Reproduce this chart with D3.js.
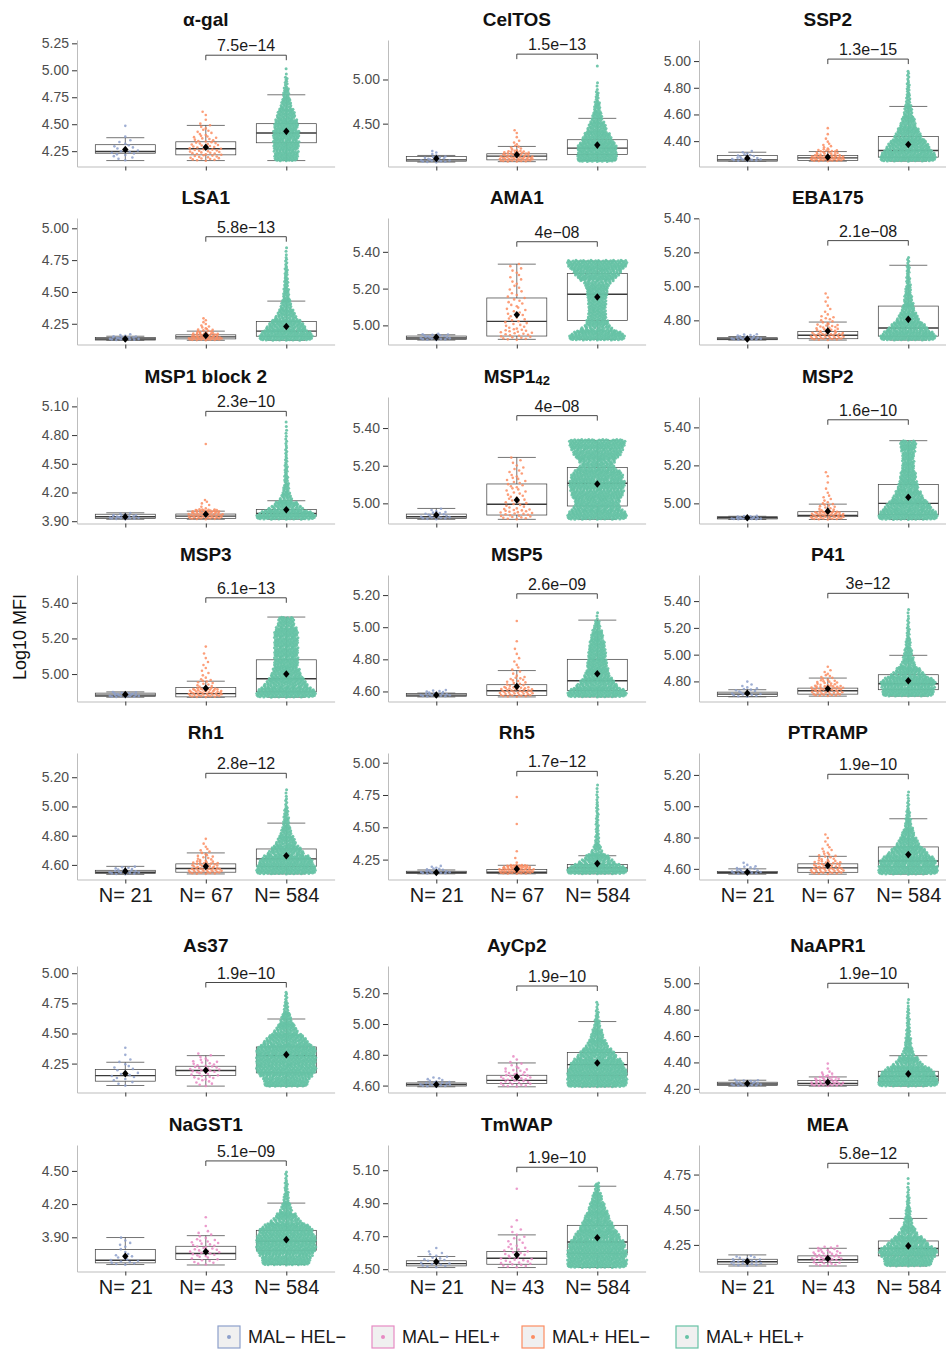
<!DOCTYPE html>
<html>
<head>
<meta charset="utf-8">
<script src="https://cdn.jsdelivr.net/npm/d3@7"></script>
<style>
  body { margin: 0; background: #fff; }
  text { font-family: "Liberation Sans", Arial, sans-serif; }
</style>
</head>
<body>
<div id="chart"></div>
<script>
// antigen panels, read left to right, top to bottom
const antigens = ["α-gal", "CelTOS", "SSP2", "LSA1", "AMA1", "EBA175",
  "MSP1 block 2", "MSP1", "MSP2", "MSP3", "MSP5", "P41", "Rh1", "Rh5", "PTRAMP",
  "As37", "AyCp2", "NaAPR1", "NaGST1", "TmWAP", "MEA"];
const antigenSub = ["", "", "", "", "", "", "", "42", "", "", "", "", "", "", "",
  "", "", "", "", "", ""];

const pLabels = ["7.5e−14", "1.5e−13", "1.3e−15", "5.8e−13", "4e−08", "2.1e−08",
  "2.3e−10", "4e−08", "1.6e−10", "6.1e−13", "2.6e−09", "3e−12",
  "2.8e−12", "1.7e−12", "1.9e−10", "1.9e−10", "1.9e−10", "1.9e−10",
  "5.1e−09", "1.9e−10", "5.8e−12"];
const bracketAt = [5.14, 5.287, 5.015, 4.934, 5.455, 5.269, 5.048, 5.466, 5.44,
  5.428, 5.208, 5.458, 5.227, 4.933, 5.204, 4.923, 5.247, 5.0, 4.59, 5.118, 4.83];

const yDomains = [[4.108, 5.281], [4.015, 5.447], [4.21, 5.158], [4.087, 5.081],
  [4.896, 5.584], [4.658, 5.402], [3.876, 5.198], [4.893, 5.565], [4.894, 5.56],
  [4.846, 5.556], [4.5375, 5.325], [4.65, 5.595], [4.5, 5.366], [4.096, 5.075],
  [4.532, 5.34], [4.01, 5.06], [4.555, 5.377], [4.172, 5.131], [3.591, 4.734],
  [4.486, 5.253], [4.061, 4.96]];
const yTicks = [[4.25, 4.5, 4.75, 5, 5.25], [4.5, 5], [4.4, 4.6, 4.8, 5],
  [4.25, 4.5, 4.75, 5], [5, 5.2, 5.4], [4.8, 5, 5.2, 5.4],
  [3.9, 4.2, 4.5, 4.8, 5.1], [5, 5.2, 5.4], [5, 5.2, 5.4],
  [5, 5.2, 5.4], [4.6, 4.8, 5, 5.2], [4.8, 5, 5.2, 5.4],
  [4.6, 4.8, 5, 5.2], [4.25, 4.5, 4.75, 5], [4.6, 4.8, 5, 5.2],
  [4.25, 4.5, 4.75, 5], [4.6, 4.8, 5, 5.2], [4.2, 4.4, 4.6, 4.8, 5],
  [3.9, 4.2, 4.5], [4.5, 4.7, 4.9, 5.1], [4.25, 4.5, 4.75]];

// [lower whisker, q1, median, q3, upper whisker, mean] per group
const boxStats = [
  [[4.163, 4.231, 4.247, 4.31, 4.375, 4.266], [4.163, 4.216, 4.272, 4.337, 4.489, 4.287], [4.163, 4.328, 4.418, 4.505, 4.773, 4.434]],
  [[4.065, 4.075, 4.09, 4.128, 4.14, 4.106], [4.07, 4.09, 4.132, 4.159, 4.242, 4.148], [4.083, 4.151, 4.223, 4.318, 4.56, 4.257]],
  [[4.25, 4.25, 4.26, 4.292, 4.317, 4.272], [4.25, 4.255, 4.275, 4.292, 4.322, 4.28], [4.25, 4.28, 4.33, 4.435, 4.66, 4.375]],
  [[4.12, 4.122, 4.13, 4.142, 4.152, 4.13], [4.12, 4.131, 4.147, 4.163, 4.192, 4.158], [4.12, 4.152, 4.192, 4.268, 4.428, 4.229]],
  [[4.92, 4.924, 4.931, 4.942, 4.949, 4.935], [4.924, 4.942, 5.022, 5.149, 5.333, 5.058], [4.924, 5.027, 5.169, 5.282, 5.349, 5.154]],
  [[4.684, 4.686, 4.69, 4.698, 4.705, 4.69], [4.684, 4.692, 4.712, 4.735, 4.79, 4.737], [4.684, 4.707, 4.755, 4.884, 5.124, 4.806]],
  [[3.92, 3.928, 3.946, 3.973, 3.988, 3.946], [3.92, 3.93, 3.953, 3.975, 4.005, 3.973], [3.92, 3.952, 3.98, 4.023, 4.114, 4.02]],
  [[4.915, 4.92, 4.929, 4.943, 4.973, 4.938], [4.915, 4.938, 4.995, 5.103, 5.244, 5.018], [4.915, 4.986, 5.107, 5.19, 5.334, 5.103]],
  [[4.915, 4.918, 4.924, 4.93, 4.932, 4.924], [4.915, 4.93, 4.937, 4.956, 4.996, 4.959], [4.915, 4.94, 5.0, 5.1, 5.33, 5.032]],
  [[4.87, 4.875, 4.882, 4.893, 4.9, 4.885], [4.87, 4.872, 4.89, 4.925, 4.96, 4.92], [4.87, 4.9, 4.974, 5.08, 5.32, 5.0]],
  [[4.566, 4.57, 4.577, 4.587, 4.59, 4.578], [4.566, 4.575, 4.604, 4.642, 4.73, 4.631], [4.566, 4.606, 4.667, 4.8, 5.044, 4.71]],
  [[4.685, 4.688, 4.705, 4.72, 4.738, 4.712], [4.69, 4.705, 4.73, 4.75, 4.825, 4.745], [4.69, 4.738, 4.783, 4.85, 4.995, 4.805]],
  [[4.535, 4.541, 4.55, 4.563, 4.59, 4.557], [4.538, 4.55, 4.575, 4.607, 4.682, 4.59], [4.538, 4.59, 4.641, 4.709, 4.886, 4.663]],
  [[4.14, 4.142, 4.15, 4.16, 4.17, 4.15], [4.14, 4.142, 4.152, 4.173, 4.206, 4.178], [4.14, 4.16, 4.186, 4.212, 4.28, 4.219]],
  [[4.566, 4.57, 4.576, 4.583, 4.6, 4.578], [4.566, 4.578, 4.606, 4.632, 4.68, 4.621], [4.566, 4.613, 4.65, 4.74, 4.92, 4.691]],
  [[4.068, 4.104, 4.15, 4.2, 4.261, 4.167], [4.063, 4.151, 4.192, 4.228, 4.316, 4.195], [4.063, 4.173, 4.316, 4.388, 4.62, 4.324]],
  [[4.592, 4.597, 4.607, 4.617, 4.625, 4.607], [4.592, 4.613, 4.634, 4.667, 4.747, 4.656], [4.592, 4.667, 4.736, 4.815, 5.016, 4.747]],
  [[4.22, 4.225, 4.237, 4.25, 4.265, 4.24], [4.22, 4.225, 4.24, 4.262, 4.29, 4.25], [4.22, 4.257, 4.295, 4.333, 4.451, 4.313]],
  [[3.654, 3.669, 3.693, 3.789, 3.898, 3.729], [3.65, 3.699, 3.753, 3.819, 3.915, 3.771], [3.654, 3.783, 3.864, 3.963, 4.209, 3.879]],
  [[4.51, 4.52, 4.534, 4.551, 4.577, 4.545], [4.51, 4.53, 4.566, 4.607, 4.708, 4.587], [4.51, 4.597, 4.665, 4.766, 5.003, 4.691]],
  [[4.1, 4.113, 4.13, 4.148, 4.179, 4.132], [4.1, 4.125, 4.144, 4.172, 4.226, 4.153], [4.1, 4.172, 4.224, 4.278, 4.438, 4.243]]
];

// binned point counts per group: [lowest value, highest value, counts in equal bins]
const clouds = [
  [[4.16, 4.51, [4, 7, 5, 3, 1, 0, 1]], [4.16, 4.63, [15, 16, 13, 10, 6, 4, 1, 2]], [4.16, 5.04, [70, 76, 78, 70, 52, 29, 17, 8, 2]]],
  [[4.06, 4.2, [10, 7, 2, 2]], [4.07, 4.44, [33, 22, 6, 3, 1, 2]], [4.07, 5.21, [111, 111, 78, 50, 28, 17, 8, 3, 0, 1]]],
  [[4.25, 4.33, [12, 6, 3]], [4.25, 4.52, [40, 18, 5, 2, 1, 1]], [4.25, 4.93, [176, 126, 75, 44, 25, 13, 9, 6]]],
  [[4.12, 4.17, [10, 8, 3]], [4.12, 4.3, [30, 20, 9, 4, 2, 2]], [4.12, 4.86, [156, 104, 52, 29, 17, 12, 9, 6, 3]]],
  [[4.92, 4.955, [12, 9]], [4.92, 5.34, [22, 12, 9, 8, 6, 5, 5]], [4.92, 5.355, [156, 67, 50, 50, 56, 67, 122, 167]]],
  [[4.684, 4.72, [14, 7]], [4.684, 4.97, [35, 17, 8, 3, 2, 2]], [4.684, 5.175, [144, 93, 51, 31, 21, 15, 10, 8, 5]]],
  [[3.92, 3.99, [10, 8, 3]], [3.92, 4.76, [60, 6, 0, 0, 0, 0, 0, 1]], [3.92, 4.96, [150, 70, 25, 15, 10, 8, 6, 5, 4, 3, 2]]],
  [[4.915, 4.975, [11, 7, 3]], [4.915, 5.25, [24, 12, 10, 10, 7, 4]], [4.915, 5.34, [167, 122, 145, 156, 145, 89, 133, 156]]],
  [[4.915, 4.935, [14, 7]], [4.915, 5.175, [45, 12, 5, 2, 1, 2]], [4.915, 5.33, [163, 120, 76, 54, 44, 33, 33, 44]]],
  [[4.87, 4.9, [13, 8]], [4.87, 5.18, [45, 12, 4, 3, 2, 1]], [4.87, 5.32, [167, 111, 78, 67, 67, 67, 67, 44]]],
  [[4.566, 4.61, [14, 7]], [4.566, 5.07, [40, 15, 5, 3, 2, 1, 0, 1]], [4.566, 5.1, [158, 95, 63, 53, 48, 42, 32, 16, 3]]],
  [[4.685, 4.815, [10, 7, 3, 1]], [4.69, 4.93, [20, 25, 12, 6, 3, 1]], [4.69, 5.35, [141, 152, 76, 33, 22, 14, 8, 5, 3]]],
  [[4.535, 4.59, [14, 7]], [4.538, 4.8, [30, 20, 9, 5, 2, 1]], [4.538, 5.125, [160, 139, 85, 48, 27, 16, 11, 5, 3]]],
  [[4.14, 4.205, [12, 6, 3]], [4.14, 4.77, [62, 2, 1, 0, 0, 1, 0, 0, 1]], [4.14, 4.84, [168, 78, 22, 11, 8, 7, 6, 4, 3]]],
  [[4.566, 4.645, [12, 7, 2]], [4.566, 4.83, [28, 20, 10, 5, 2, 2]], [4.566, 5.1, [155, 145, 93, 52, 31, 16, 10, 5, 3]]],
  [[4.06, 4.41, [4, 7, 5, 3, 1, 1]], [4.06, 4.34, [6, 10, 13, 10, 4]], [4.06, 4.85, [130, 177, 177, 177, 118, 59, 29, 12, 6]]],
  [[4.592, 4.655, [15, 6]], [4.592, 4.8, [14, 14, 9, 4, 2]], [4.592, 5.15, [160, 160, 139, 96, 53, 32, 16, 8, 4]]],
  [[4.22, 4.27, [13, 8]], [4.22, 4.41, [22, 14, 5, 1, 1]], [4.22, 4.89, [165, 143, 66, 28, 17, 11, 8, 6, 3]]],
  [[3.65, 3.91, [9, 5, 2, 3, 2]], [3.65, 4.12, [10, 14, 12, 5, 1, 1]], [3.65, 4.5, [140, 175, 175, 152, 70, 29, 15, 9, 5]]],
  [[4.51, 4.645, [9, 7, 4, 1]], [4.51, 5.02, [18, 12, 7, 4, 1, 0, 0, 1]], [4.51, 5.025, [158, 158, 148, 116, 84, 63, 42, 26, 11]]],
  [[4.1, 4.175, [8, 8, 5]], [4.1, 4.245, [10, 14, 12, 7]], [4.1, 4.74, [133, 167, 100, 44, 22, 14, 8, 4, 2]]]
];

const groupsMal = ["MAL− HEL−", "MAL+ HEL−", "MAL+ HEL+"];
const groupsHel = ["MAL− HEL−", "MAL− HEL+", "MAL+ HEL+"];
const nMal = [21, 67, 584];
const nHel = [21, 43, 584];
const legendLabels = ["MAL− HEL−", "MAL− HEL+", "MAL+ HEL−", "MAL+ HEL+"];

const color = d3.scaleOrdinal()
  .domain(legendLabels)
  .range(["#8da0cb", "#e78ac3", "#fc8d62", "#66c2a5"]);

const width = 946, height = 1352;
const colX = [77, 388, 699];
const rowTop = [40, 218, 397, 575, 753, 966, 1145];
const plotW = 257.6, plotH = 126.5;
const labelledRows = [4, 6];

const svg = d3.select("#chart").append("svg")
  .attr("width", width)
  .attr("height", height);
svg.append("rect").attr("width", width).attr("height", height).attr("fill", "#fff");

// van der Corput sequence, spreads points sideways like a quasirandom swarm
function vdc(n) {
  let v = 0, d = 1;
  while (n) { d *= 2; v += (n & 1) / d; n >>= 1; }
  return v;
}

antigens.forEach((name, i) => {
  const row = Math.floor(i / 3), col = i % 3;
  const groups = i < 15 ? groupsMal : groupsHel;
  const ns = i < 15 ? nMal : nHel;
  const g = svg.append("g").attr("transform", `translate(${colX[col]},${rowTop[row]})`);

  const x = d3.scalePoint().domain(groups).range([0, plotW]).padding(0.6);
  const y = d3.scaleLinear().domain(yDomains[i]).range([plotH, 0]);

  // title
  const title = g.append("text")
    .attr("x", plotW / 2).attr("y", -14)
    .attr("text-anchor", "middle")
    .attr("font-size", 19).attr("font-weight", "bold").attr("fill", "#111")
    .text(name);
  if (antigenSub[i]) {
    title.append("tspan").attr("font-size", 13).attr("dy", 2).text(antigenSub[i]);
  }

  // axes
  const yAxis = g.append("g").call(d3.axisLeft(y)
    .tickValues(yTicks[i]).tickFormat(d3.format(".2f"))
    .tickSize(5).tickSizeOuter(0).tickPadding(3));
  yAxis.select(".domain").attr("stroke", "#bdbdbd");
  yAxis.selectAll(".tick line").attr("stroke", "#333");
  yAxis.selectAll("text").attr("font-size", 14).attr("fill", "#4d4d4d");

  const labelled = labelledRows.includes(row);
  const xAxis = g.append("g").attr("transform", `translate(0,${plotH})`)
    .call(d3.axisBottom(x).tickSize(4).tickSizeOuter(0)
      .tickFormat((d, k) => labelled ? `N= ${ns[k]}` : ""));
  xAxis.select(".domain").attr("stroke", "#bdbdbd");
  xAxis.selectAll(".tick line").attr("stroke", "#333");
  xAxis.selectAll("text").attr("font-size", 20).attr("fill", "#1a1a1a")
    .attr("y", 8).attr("dy", "0.71em");

  const half = 30, cap = 19;

  // boxes and whiskers
  groups.forEach((grp, j) => {
    const [wlo, q1, med, q3, whi] = boxStats[i][j];
    const cx = x(grp);
    const bg = g.append("g").attr("stroke", "#3a3a3a").attr("stroke-width", 0.7);
    bg.append("line").attr("x1", cx).attr("x2", cx).attr("y1", y(q3)).attr("y2", y(whi));
    bg.append("line").attr("x1", cx).attr("x2", cx).attr("y1", y(q1)).attr("y2", y(wlo));
    bg.append("line").attr("x1", cx - cap).attr("x2", cx + cap).attr("y1", y(whi)).attr("y2", y(whi));
    bg.append("line").attr("x1", cx - cap).attr("x2", cx + cap).attr("y1", y(wlo)).attr("y2", y(wlo));
    bg.append("rect").attr("x", cx - half).attr("width", half * 2)
      .attr("y", y(q3)).attr("height", Math.max(0.5, y(q1) - y(q3)))
      .attr("fill", "#fff");
    bg.append("line").attr("x1", cx - half).attr("x2", cx + half)
      .attr("y1", y(med)).attr("y2", y(med)).attr("stroke-width", 1.4);
  });

  // points, placed bin by bin with width following the bin count
  groups.forEach((grp, j) => {
    const [lo, hi, counts] = clouds[i][j];
    const cx = x(grp);
    const nb = counts.length, bw = (hi - lo) / nb;
    const binPx = y(lo) - y(lo + bw);
    const cmax = d3.max(counts);
    const small = ns[j] < 100;
    const hws = counts.map(c => small ? 18 * Math.sqrt(c / cmax) : Math.min(30, 1.8 * c / binPx));
    const hwAt = v => {
      const t = (v - lo) / bw - 0.5;
      const b0 = Math.max(0, Math.min(nb - 1, Math.floor(t)));
      const b1 = Math.min(nb - 1, b0 + 1);
      const f = Math.max(0, Math.min(1, t - b0));
      return Math.max(hws[b0] * (1 - f) + hws[b1] * f, 0.4);
    };
    const pts = [];
    counts.forEach((c, b) => {
      for (let k = 0; k < c; k++) {
        const v = lo + bw * (b + (k + 0.5) / c);
        pts.push({ v, dx: (vdc(k + 1) * 2 - 1) * hwAt(v) });
      }
    });
    g.append("g").selectAll("circle").data(pts).join("circle")
      .attr("cx", d => cx + d.dx)
      .attr("cy", d => y(d.v))
      .attr("r", small ? 1.3 : 1.5)
      .attr("fill", color(grp))
      .attr("fill-opacity", small ? 0.85 : 0.92);
  });

  // means
  groups.forEach((grp, j) => {
    const m = boxStats[i][j][5];
    g.append("path")
      .attr("transform", `translate(${x(grp)},${y(m)})`)
      .attr("d", "M0,-3.8L3.2,0L0,3.8L-3.2,0Z")
      .attr("fill", "#000");
  });

  // comparison bracket
  const by = y(bracketAt[i]);
  const bx1 = x(groups[1]), bx2 = x(groups[2]);
  g.append("path")
    .attr("d", `M${bx1},${by + 5}V${by}H${bx2}V${by + 5}`)
    .attr("fill", "none").attr("stroke", "#333").attr("stroke-width", 0.9);
  g.append("text")
    .attr("x", (bx1 + bx2) / 2).attr("y", by - 4)
    .attr("text-anchor", "middle")
    .attr("font-size", 16).attr("fill", "#1a1a1a")
    .text(pLabels[i]);
});

// y axis title
svg.append("text")
  .attr("transform", "translate(26,637) rotate(-90)")
  .attr("text-anchor", "middle")
  .attr("font-size", 18).attr("fill", "#111")
  .text("Log10 MFI");

// legend
const legendX = [218, 372, 522, 676];
const legend = svg.append("g").attr("transform", "translate(0,1337)");
legendLabels.forEach((lab, k) => {
  const lg = legend.append("g").attr("transform", `translate(${legendX[k]},0)`);
  lg.append("rect").attr("x", 0).attr("y", -11).attr("width", 22).attr("height", 22)
    .attr("fill", "#f0f0f0").attr("stroke", color(lab)).attr("stroke-width", 1.2);
  lg.append("circle").attr("cx", 11).attr("cy", 0).attr("r", 2).attr("fill", color(lab));
  lg.append("text").attr("x", 30).attr("y", 0).attr("dy", "0.35em")
    .attr("font-size", 18).attr("fill", "#1a1a1a").text(lab);
});
</script>
</body>
</html>
